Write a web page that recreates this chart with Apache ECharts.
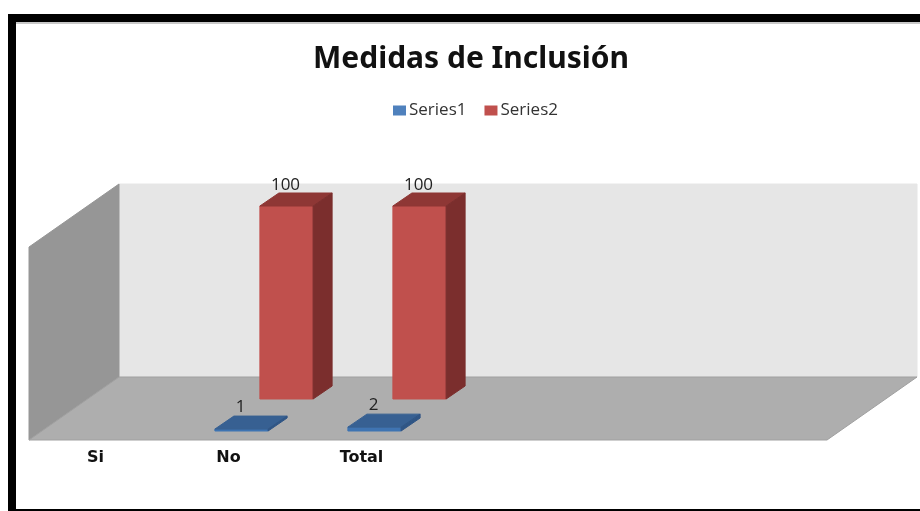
<!DOCTYPE html>
<html>
<head>
<meta charset="utf-8">
<style>html,body{margin:0;padding:0;background:#fff}#c{width:920px;height:511px}</style>
<script src="https://cdn.jsdelivr.net/npm/echarts@6/dist/echarts.min.js"></script>
</head>
<body>
<div id="c"></div>
<script>
const categories = ['Si', 'No', 'Total', '', '', ''];
const series1Values = [null, 1, 2, null, null, null];
const series2Values = [null, 100, 100, null, null, null];
const chartTitle = 'Medidas de Inclusión';

const WALL_DX = 90, WALL_DY = -63;
const BAR_DX = 19, BAR_DY = -13;

function poly(points, fill, stroke) {
  return { type: 'polygon', shape: { points }, style: { fill, stroke: stroke || fill, lineWidth: 1 } };
}

function wallsItem(params) {
  const r = params.coordSys;
  const L = r.x, R = r.x + r.width, T = r.y, B = r.y + r.height;
  return { type: 'group', children: [
    poly([[L + WALL_DX, T + WALL_DY], [R + WALL_DX, T + WALL_DY], [R + WALL_DX, B + WALL_DY], [L + WALL_DX, B + WALL_DY]], '#e6e6e6'),
    poly([[L, T], [L + WALL_DX, T + WALL_DY], [L + WALL_DX, B + WALL_DY], [L, B]], '#969696'),
    poly([[L, B], [L + WALL_DX, B + WALL_DY], [R + WALL_DX, B + WALL_DY], [R, B]], '#aeaeae', '#a0a0a0')
  ]};
}

function barRenderer(offX, offY, colors, labelDX, labelGap) {
  return function (params, api) {
    const base = api.coord([api.value(0), 0]);
    const top = api.coord([api.value(0), api.value(1)]);
    const w = api.size([1, 0])[0] * 0.4;
    const x0 = base[0] + offX - w / 2, x1 = x0 + w;
    const yB = base[1] + offY, yT = top[1] + offY;
    return { type: 'group', children: [
      poly([[x0, yB], [x1, yB], [x1, yT], [x0, yT]], colors.front),
      poly([[x0, yT], [x1, yT], [x1 + BAR_DX, yT + BAR_DY], [x0 + BAR_DX, yT + BAR_DY]], colors.top),
      poly([[x1, yB], [x1 + BAR_DX, yB + BAR_DY], [x1 + BAR_DX, yT + BAR_DY], [x1, yT]], colors.side),
      { type: 'text', x: x0 + w / 2 + labelDX, y: yT + BAR_DY + labelGap, style: {
        text: String(api.value(1)), fill: '#222', font: '17px "Open Sans"', align: 'center', verticalAlign: 'bottom'
      }}
    ]};
  };
}

function toData(values) {
  return values.map((v, i) => [i, v]).filter(d => d[1] !== null);
}

const chart = echarts.init(document.getElementById('c'), null, { renderer: 'canvas' });
chart.setOption({
  animation: false,
  backgroundColor: '#ffffff',
  title: {
    text: chartTitle, left: 466, top: 39, textAlign: 'center',
    textStyle: { fontFamily: 'Noto Sans', fontWeight: 'bold', fontSize: 30, color: '#111' }
  },
  legend: {
    data: ['Series1', 'Series2'], left: 388, top: 97, itemWidth: 13, itemHeight: 10, itemGap: 18,
    textStyle: { fontFamily: 'Open Sans', fontSize: 17, color: '#333', padding: [0, 0, 0, -2] },
    icon: 'rect', selectedMode: false
  },
  grid: { left: 29, top: 247, width: 798, height: 193 },
  xAxis: {
    type: 'category', data: categories,
    axisLine: { show: false }, axisTick: { show: false }, splitLine: { show: false },
    axisLabel: { interval: 0, margin: 10, fontFamily: 'DejaVu Sans', fontWeight: 'bold', fontSize: 16, color: '#111' }
  },
  yAxis: { type: 'value', min: 0, max: 100, show: false },
  series: [
    { type: 'custom', silent: true, z: 1, data: [[0, 0]], encode: { x: 0, y: 1 }, renderItem: wallsItem },
    { name: 'Series1', type: 'custom', z: 4, data: toData(series1Values), encode: { x: 0, y: 1 },
      itemStyle: { color: '#4f81bd' },
      renderItem: barRenderer(13, -9, { front: '#3f74b2', top: '#376092', side: '#2f5585' }, -1, 0) },
    { name: 'Series2', type: 'custom', z: 3, data: toData(series2Values), encode: { x: 0, y: 1 },
      itemStyle: { color: '#c0504d' },
      renderItem: barRenderer(58, -41, { front: '#c0504d', top: '#8e3735', side: '#7b2e2d' }, -1, 1) }
  ],
  graphic: [
    { type: 'rect', shape: { x: 8, y: 14, width: 912, height: 8 }, style: { fill: '#000' }, z: 10 },
    { type: 'rect', shape: { x: 8, y: 14, width: 8, height: 497 }, style: { fill: '#000' }, z: 10 },
    { type: 'rect', shape: { x: 16, y: 509, width: 904, height: 2 }, style: { fill: '#000' }, z: 10 },
    { type: 'rect', shape: { x: 16, y: 22, width: 904, height: 2 }, style: { fill: '#c8c8c8' }, z: 10 }
  ]
});
</script>
</body>
</html>
